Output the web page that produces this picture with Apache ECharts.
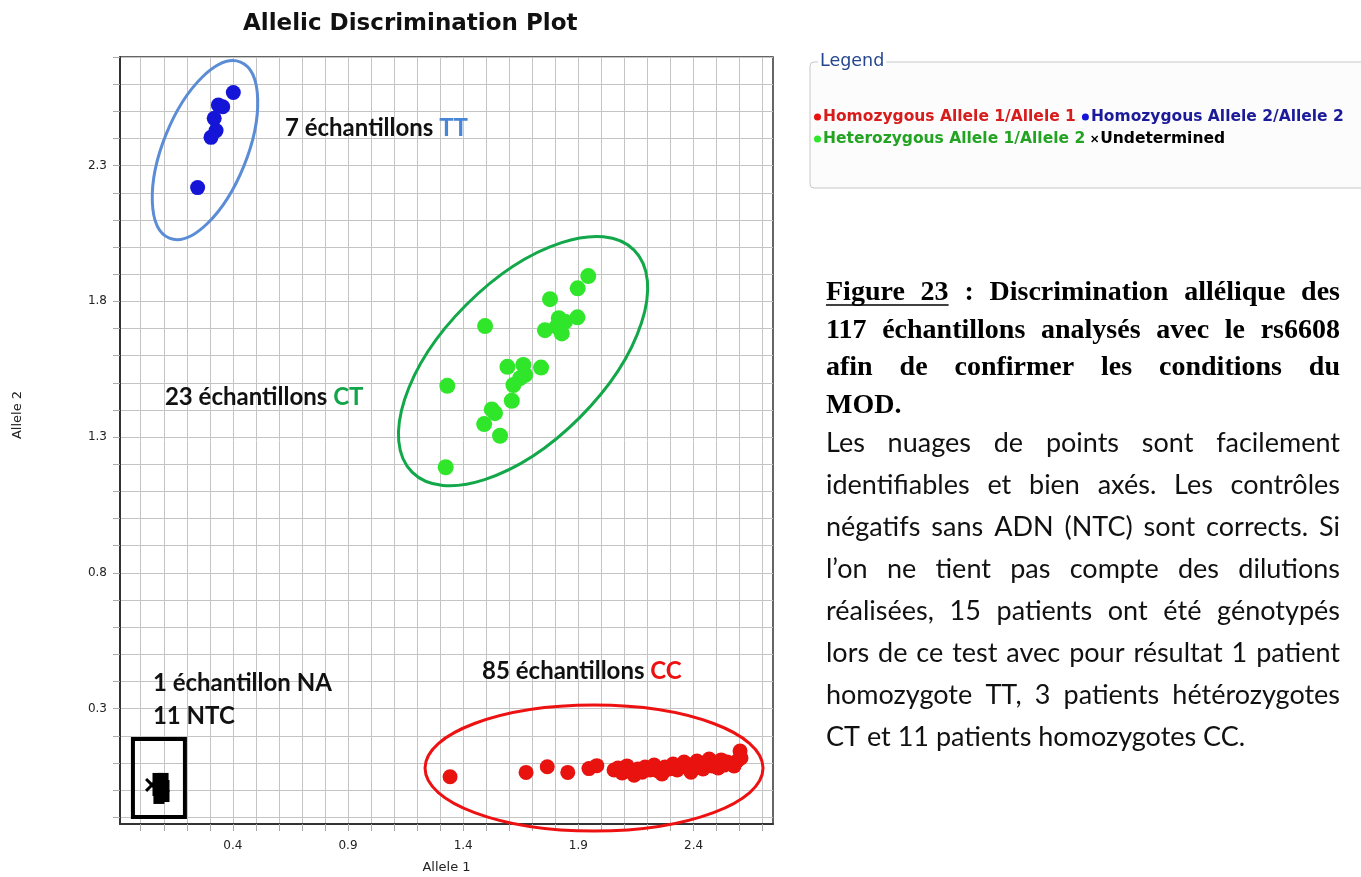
<!DOCTYPE html>
<html>
<head>
<meta charset="utf-8">
<title>Allelic Discrimination Plot</title>
<script src="https://cdn.jsdelivr.net/npm/echarts@6/dist/echarts.min.js"></script>
<style>
  html, body { margin: 0; padding: 0; background: #fff; }
  #chart { width: 1361px; height: 877px; }
</style>
</head>
<body>
<div id="chart"></div>
<script>
// Allele 1 / Allele 2 values
const homo11 = [
  [1.343, 0.049], [1.673, 0.065], [1.765, 0.086], [1.854, 0.065], [1.946, 0.079], [1.980, 0.090],
  [2.055, 0.074], [2.072, 0.081], [2.090, 0.063], [2.111, 0.089], [2.129, 0.070], [2.142, 0.055],
  [2.159, 0.078], [2.177, 0.066], [2.190, 0.085], [2.211, 0.074], [2.229, 0.092], [2.246, 0.070],
  [2.263, 0.059], [2.276, 0.085], [2.294, 0.078], [2.311, 0.096], [2.329, 0.074], [2.346, 0.089],
  [2.359, 0.103], [2.376, 0.081], [2.389, 0.066], [2.402, 0.096], [2.415, 0.107], [2.428, 0.085],
  [2.441, 0.078], [2.455, 0.103], [2.468, 0.114], [2.481, 0.089], [2.494, 0.100], [2.507, 0.081],
  [2.520, 0.111], [2.533, 0.092], [2.546, 0.103], [2.563, 0.096], [2.576, 0.089], [2.589, 0.107],
  [2.602, 0.144], [2.606, 0.118]
];
const homo22 = [
  [0.402, 2.569], [0.337, 2.523], [0.356, 2.517], [0.319, 2.474], [0.327, 2.429], [0.305, 2.404], [0.247, 2.219]
];
const hetero = [
  [1.943, 1.893], [1.897, 1.848], [1.777, 1.808], [1.495, 1.709], [1.896, 1.741], [1.815, 1.738],
  [1.842, 1.725], [1.806, 1.707], [1.755, 1.694], [1.828, 1.682], [1.592, 1.559], [1.661, 1.566],
  [1.738, 1.556], [1.669, 1.529], [1.647, 1.517], [1.618, 1.492], [1.331, 1.489], [1.611, 1.434],
  [1.524, 1.402], [1.538, 1.388], [1.491, 1.348], [1.560, 1.305], [1.324, 1.189]
];
const undetermined = [[0.049, 0.019]];
const ntc = [
  [0.075, 0.041], [0.097, 0.041], [0.084, 0.022], [0.101, 0.015], [0.075, 0.000], [0.097, -0.004],
  [0.084, -0.018], [0.101, -0.022], [0.079, -0.029], [0.092, 0.033], [0.088, 0.004]
];

const xTickLabels = [0.4, 0.9, 1.4, 1.9, 2.4];
const yTickLabels = [0.3, 0.8, 1.3, 1.8, 2.3];
const xGrid = [];
for (let i = 0; i <= 27; i++) xGrid.push(+(i * 0.1).toFixed(1));
const yGrid = [];
for (let i = -1; i <= 27; i++) yGrid.push(+(i * 0.1).toFixed(1));

const names = {
  homo11: 'Homozygous Allele 1/Allele 1',
  homo22: 'Homozygous Allele 2/Allele 2',
  hetero: 'Heterozygous Allele 1/Allele 2',
  undet: 'Undetermined'
};

const captionLines = [
  'Figure 23 : Discrimination allélique des',
  '117 échantillons analysés avec le rs6608',
  'afin de confirmer les conditions du',
  'MOD.'
];
const bodyLines = [
  'Les nuages de points sont facilement',
  'identifiables et bien axés. Les contrôles',
  'négatifs sans ADN (NTC) sont corrects. Si',
  'l’on ne tient pas compte des dilutions',
  'réalisées, 15 patients ont été génotypés',
  'lors de ce test avec pour résultat 1 patient',
  'homozygote TT, 3 patients hétérozygotes',
  'CT et 11 patients homozygotes CC.'
];

const crossPath = 'path://M0,1.5L1.5,0L5,3.5L8.5,0L10,1.5L6.5,5L10,8.5L8.5,10L5,6.5L1.5,10L0,8.5L3.5,5Z';
const axisText = { fontFamily: 'DejaVu Sans', fontSize: 12, color: '#222' };

const chart = echarts.init(document.getElementById('chart'));
chart.setOption({
  animation: false,
  backgroundColor: '#fff',
  title: {
    text: 'Allelic Discrimination Plot',
    left: 238, top: 8,
    textStyle: { fontFamily: 'DejaVu Sans', fontWeight: 'bold', fontSize: 23, color: '#111' }
  },
  legend: {
    left: 809, top: 104, width: 570,
    itemWidth: 7, itemHeight: 7, itemGap: 6,
    selectedMode: false,
    textStyle: { fontFamily: 'DejaVu Sans', fontWeight: 'bold', fontSize: 15.5, lineHeight: 15, padding: [0, 0, 0, -3] },
    data: [
      { name: names.homo11, textStyle: { color: '#d81c1c' } },
      { name: names.homo22, textStyle: { color: '#1b1b9a' } },
      { name: names.hetero, textStyle: { color: '#22a322' } },
      { name: names.undet, textStyle: { color: '#000' } }
    ]
  },
  grid: {
    left: 120, top: 57, width: 653, height: 767,
    outerBoundsMode: 'none',
    show: true, borderColor: '#333', borderWidth: 1.5, backgroundColor: '#fff'
  },
  xAxis: {
    type: 'value', min: -0.09, max: 2.745,
    axisLine: { show: true, onZero: false, lineStyle: { color: '#333', width: 2 } },
    axisTick: { show: true, customValues: xGrid, length: 7, lineStyle: { color: '#aaa' } },
    axisLabel: { customValues: xTickLabels, formatter: v => v.toFixed(1), margin: 16, ...axisText },
    splitLine: { show: true, lineStyle: { color: '#c4c4c4', width: 1 } },
    name: 'Allele 1', nameLocation: 'middle', nameGap: 37,
    nameTextStyle: { fontFamily: 'DejaVu Sans', fontSize: 13, color: '#222' }
  },
  yAxis: {
    type: 'value', min: -0.125, max: 2.7,
    axisLine: { show: true, onZero: false, lineStyle: { color: '#333', width: 2 } },
    axisTick: { show: true, customValues: yGrid, length: 7, lineStyle: { color: '#aaa' } },
    axisLabel: { customValues: yTickLabels, formatter: v => v.toFixed(1), margin: 13, ...axisText },
    splitLine: { show: true, lineStyle: { color: '#c4c4c4', width: 1 } }
  },
  series: [
    { name: names.homo11, type: 'scatter', data: homo11, symbolSize: 15, itemStyle: { color: '#e8120f', opacity: 1 } },
    { name: names.hetero, type: 'scatter', data: hetero, symbolSize: 16, itemStyle: { color: '#2fe62a', opacity: 1 } },
    { name: names.homo22, type: 'scatter', data: homo22, symbolSize: 15, itemStyle: { color: '#1515d8', opacity: 1 } },
    { name: names.undet, type: 'scatter', data: undetermined, symbol: crossPath, symbolSize: 14, itemStyle: { color: '#000', opacity: 1 } },
    { name: 'NTC', type: 'scatter', data: ntc, symbol: 'rect', symbolSize: [11, 12], itemStyle: { color: '#000', opacity: 1 } }
  ]
});

// annotations: anchors in data units, drawn over the plot
const measureCtx = document.createElement('canvas').getContext('2d');
function textWidth(str, font) {
  measureCtx.font = font;
  return measureCtx.measureText(str).width;
}
function toPx(p) {
  return chart.convertToPixel({ gridIndex: 0 }, p);
}
function txt(x, y, text, font, color, align, extra) {
  return Object.assign({
    type: 'text', x: x, y: y, z: 5,
    style: { text: text, font: font, fill: color, align: align || 'left', verticalAlign: 'middle' }
  }, extra || {});
}

const labelFont = 'bold 24px Lato';
const groupLabels = [
  { at: [0.626, 2.438], main: '7 échantillons ', tail: 'TT', color: '#4a86d6' },
  { at: [0.105, 1.448], main: '23 échantillons ', tail: 'CT', color: '#13a54a' },
  { at: [1.482, 0.439], main: '85 échantillons ', tail: 'CC', color: '#ee1111' },
  { at: [0.053, 0.394], main: '1 échantillon NA', tail: '', color: '#111' },
  { at: [0.053, 0.273], main: '11 NTC', tail: '', color: '#111' }
];
const ellipses = [
  { at: [0.279, 2.357], rx: 95, ry: 42, angle: 68, color: '#5b8dd6' },
  { at: [1.660, 1.580], rx: 157, ry: 80, angle: 45, color: '#12a84a' },
  { at: [1.968, 0.081], rx: 169, ry: 63, angle: 0, color: '#ee1111' }
];

const graphics = [];
ellipses.forEach(e => {
  const c = toPx(e.at);
  graphics.push({
    type: 'ellipse', x: c[0], y: c[1], rotation: e.angle * Math.PI / 180, z: 3,
    shape: { cx: 0, cy: 0, rx: e.rx, ry: e.ry },
    style: { fill: 'none', stroke: e.color, lineWidth: 3 }
  });
});
const boxC = toPx([0.079, 0.044]);
graphics.push({
  type: 'rect', z: 3,
  shape: { x: boxC[0] - 26, y: boxC[1] - 39, width: 52, height: 78 },
  style: { fill: 'none', stroke: '#000', lineWidth: 4 }
});
groupLabels.forEach(l => {
  const p = toPx(l.at);
  graphics.push(txt(p[0], p[1], l.main, labelFont, '#111'));
  if (l.tail) graphics.push(txt(p[0] + textWidth(l.main, labelFont), p[1], l.tail, labelFont, l.color));
});

// y axis name
graphics.push(txt(18, 415, 'Allele 2', '13px "DejaVu Sans"', '#222', 'center', { rotation: Math.PI / 2 }));

// legend frame
graphics.push({
  type: 'rect', z: 0,
  shape: { x: 810, y: 62, width: 560, height: 126, r: 4 },
  style: { fill: '#fcfcfc', stroke: '#c8c8c8', lineWidth: 1 }
});
graphics.push({
  type: 'text', x: 818, y: 61, z: 5,
  style: { text: 'Legend', font: '17.5px "DejaVu Sans"', fill: '#24478f', backgroundColor: '#fff', padding: [0, 2], align: 'left', verticalAlign: 'middle' }
});

// caption block, justified like the source document
const leftX = 826, rightX = 1340;
function lineWords(text, font, y, justify, color) {
  const words = text.split(' ');
  const widths = words.map(w => textWidth(w, font));
  const total = widths.reduce((a, b) => a + b, 0);
  const gap = justify && words.length > 1 ? (rightX - leftX - total) / (words.length - 1) : textWidth(' ', font);
  let x = leftX;
  const out = [];
  words.forEach((w, i) => {
    out.push(txt(x, y, w, font, color));
    x += widths[i] + gap;
  });
  return { els: out, widths: widths, gap: gap };
}
const capFont = 'bold 28px "Liberation Serif"';
const bodyFont = '27px Lato';
captionLines.forEach((line, i) => {
  const y = 293 + i * 37.5;
  const r = lineWords(line, capFont, y, i < captionLines.length - 1, '#000');
  graphics.push(...r.els);
  if (i === 0) {
    const end = leftX + r.widths[0] + r.gap + r.widths[1];
    graphics.push({ type: 'line', z: 5, shape: { x1: leftX, y1: y + 12, x2: end, y2: y + 12 }, style: { stroke: '#000', lineWidth: 1.5 } });
  }
});
bodyLines.forEach((line, i) => {
  const y = 443 + i * 42;
  graphics.push(...lineWords(line, bodyFont, y, i < bodyLines.length - 1, '#111').els);
});

chart.setOption({ graphic: graphics });
</script>
</body>
</html>
